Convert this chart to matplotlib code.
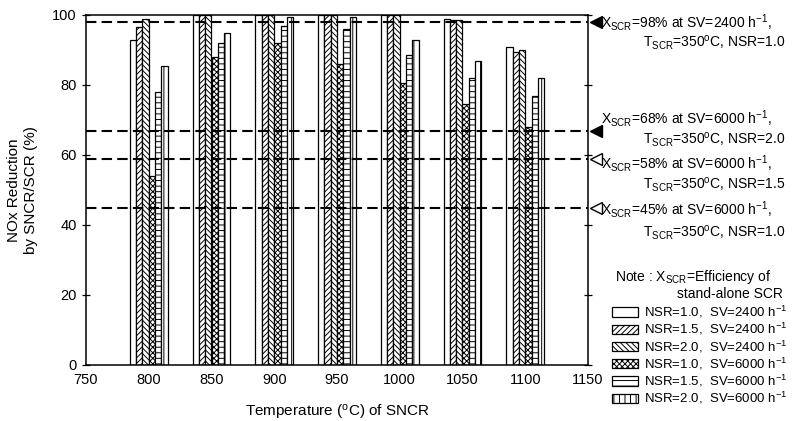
import matplotlib.pyplot as plt
import numpy as np
from matplotlib.patches import Patch

plt.rcParams['font.family'] = ['Liberation Sans', 'DejaVu Sans']
plt.rcParams['mathtext.default'] = 'regular'
plt.rcParams['hatch.linewidth'] = 0.7
plt.rcParams['font.size'] = 10

# --------------------------------------------------------------------------
# data
temps = [800, 850, 900, 950, 1000, 1050, 1100]
nsr10_2400 = [93, 100, 100, 100, 100, 99, 91]
nsr15_2400 = [96.5, 100, 100, 100, 100, 98.6, 89.5]
nsr20_2400 = [99, 100, 100, 100, 100, 98.6, 90]
nsr10_6000 = [54, 88, 92, 86, 80.5, 74.5, 68]
nsr15_6000 = [78, 92, 97, 96, 88.5, 82, 77]
nsr20_6000 = [85.5, 95, 99.5, 99.5, 93, 87, 82]
series_labels = ['NSR=1.0,  SV=2400 h$^{-1}$', 'NSR=1.5,  SV=2400 h$^{-1}$',
                 'NSR=2.0,  SV=2400 h$^{-1}$', 'NSR=1.0,  SV=6000 h$^{-1}$',
                 'NSR=1.5,  SV=6000 h$^{-1}$', 'NSR=2.0,  SV=6000 h$^{-1}$']
hatches = ['', '//////', '\\\\\\\\\\\\', 'xxxxxx', '---', '|||']

# stand-alone SCR levels (line position, filled marker?)
scr_levels = [98, 67, 59, 45]
scr_filled = [True, True, False, False]
scr_line1 = ['X$_{SCR}$=98% at SV=2400 h$^{-1}$,', 'X$_{SCR}$=68% at SV=6000 h$^{-1}$,',
             'X$_{SCR}$=58% at SV=6000 h$^{-1}$,', 'X$_{SCR}$=45% at SV=6000 h$^{-1}$,']
scr_line2 = ['T$_{SCR}$=350$^{o}$C, NSR=1.0', 'T$_{SCR}$=350$^{o}$C, NSR=2.0',
             'T$_{SCR}$=350$^{o}$C, NSR=1.5', 'T$_{SCR}$=350$^{o}$C, NSR=1.0']
# --------------------------------------------------------------------------
W, H = 803, 421
fig = plt.figure(figsize=(W / 100, H / 100), dpi=100)
ax = fig.add_axes([86 / W, 1 - 365 / H, (588 - 86) / W, (365 - 15) / H])

series = [nsr10_2400, nsr15_2400, nsr20_2400, nsr10_6000, nsr15_6000, nsr20_6000]
width = 5.0
x = np.array(temps, dtype=float)
handles = []
for i, vals in enumerate(series):
    off = (i - 2.5) * width
    ax.bar(x + off, vals, width, color='white', edgecolor='black',
           linewidth=0.9, hatch=hatches[i], zorder=2)
    handles.append(Patch(facecolor='white', edgecolor='black', linewidth=0.9,
                         hatch=hatches[i]))

for lev, filled in zip(scr_levels, scr_filled):
    ax.axhline(lev, color='black', lw=1.5, dashes=(5, 2.5), zorder=3)
    ax.plot([1156], [lev], marker='<', ms=8, color='black',
            mfc='black' if filled else 'white', mew=1.0, clip_on=False, zorder=4)

ax.set_xlim(750, 1150)
ax.set_ylim(0, 100)
ax.set_xticks(np.arange(750, 1151, 50))
ax.set_yticks(np.arange(0, 101, 20))
ax.tick_params(axis='y', direction='inout', length=6, right=True, width=0.9)
ax.tick_params(axis='x', direction='in', length=0, pad=6)
ax.tick_params(labelsize=10.5)
for s in ax.spines.values():
    s.set_linewidth(1.1)

ax.set_xlabel('Temperature ($^{o}$C) of SNCR', fontsize=11, labelpad=11)
ax.set_ylabel('NOx Reduction\nby SNCR/SCR (%)', fontsize=11, labelpad=10,
              linespacing=1.3)

# annotations on the right
line1_y = [22, 118, 163, 209]
line2_y = [43, 140, 185, 233]
for t1, t2, y1, y2 in zip(scr_line1, scr_line2, line1_y, line2_y):
    fig.text(601 / W, 1 - y1 / H, t1, va='center', ha='left', fontsize=10)
    fig.text(643 / W, 1 - y2 / H, t2, va='center', ha='left', fontsize=10)

fig.text(615 / W, 1 - 277 / H, 'Note : X$_{SCR}$=Efficiency of', va='center',
         ha='left', fontsize=10)
fig.text(677 / W, 1 - 294 / H, 'stand-alone SCR', va='center', ha='left',
         fontsize=10)

leg = ax.legend(handles, series_labels, loc='upper left',
                bbox_to_anchor=(612 / W, 1 - 304 / H), bbox_transform=fig.transFigure,
                frameon=False, handlelength=2.0, handleheight=0.7, labelspacing=0.08,
                handletextpad=0.4, borderpad=0, borderaxespad=0, fontsize=9.5)

fig.savefig('out.png', dpi=100)
